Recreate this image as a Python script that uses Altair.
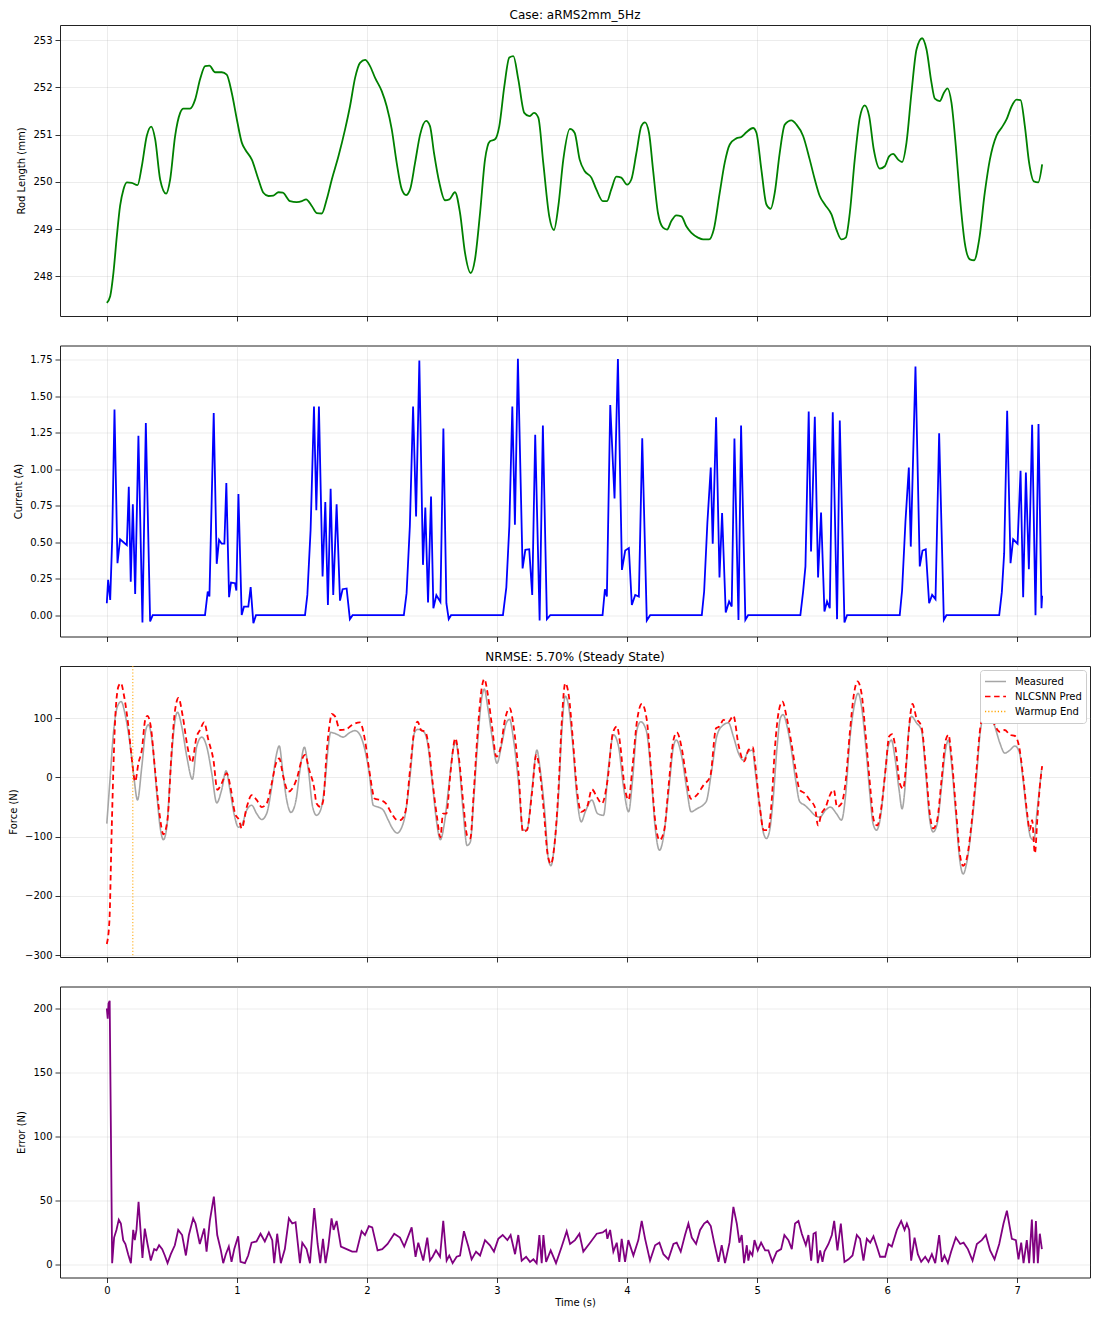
import altair as alt
import pandas as pd

FONT = "DejaVu Sans"

# ---------------- data (time s, value) ----------------
rod_points = [
    (0, 247.44), (0.026, 247.58), (0.051, 248.08), (0.077, 248.85), (0.102, 249.49), (0.128, 249.84),
    (0.154, 249.99), (0.192, 249.98), (0.236, 249.93), (0.269, 250.33), (0.307, 250.97), (0.341, 251.17),
    (0.372, 250.90), (0.41, 250.05), (0.456, 249.75), (0.487, 250.05), (0.525, 250.97), (0.564, 251.46),
    (0.589, 251.55), (0.64, 251.55), (0.679, 251.74), (0.717, 252.17), (0.756, 252.45), (0.789, 252.46),
    (0.833, 252.32), (0.884, 252.32), (0.922, 252.27), (0.961, 251.88), (1.0, 251.32), (1.038, 250.83),
    (1.063, 250.69), (1.115, 250.47), (1.166, 250.05), (1.204, 249.77), (1.243, 249.70), (1.281, 249.71),
    (1.32, 249.78), (1.353, 249.77), (1.409, 249.59), (1.46, 249.57), (1.5, 249.59), (1.532, 249.63),
    (1.576, 249.49), (1.614, 249.34), (1.653, 249.33), (1.691, 249.63), (1.73, 250.05), (1.781, 250.54),
    (1.832, 251.11), (1.87, 251.60), (1.909, 252.20), (1.947, 252.52), (1.986, 252.58), (2.024, 252.45),
    (2.063, 252.20), (2.114, 251.92), (2.152, 251.60), (2.191, 251.11), (2.229, 250.40), (2.268, 249.84),
    (2.301, 249.72), (2.332, 249.84), (2.37, 250.40), (2.409, 251.00), (2.455, 251.29), (2.485, 251.18),
    (2.516, 250.61), (2.557, 249.98), (2.6, 249.61), (2.634, 249.63), (2.677, 249.78), (2.716, 249.34),
    (2.754, 248.50), (2.798, 248.07), (2.831, 248.36), (2.87, 249.34), (2.908, 250.47), (2.946, 250.86),
    (2.985, 250.90), (3.018, 251.18), (3.057, 252.03), (3.095, 252.63), (3.126, 252.66), (3.164, 252.17),
    (3.21, 251.46), (3.249, 251.39), (3.285, 251.46), (3.318, 251.36), (3.356, 250.40), (3.402, 249.27),
    (3.438, 248.98), (3.472, 249.49), (3.51, 250.47), (3.561, 251.12), (3.597, 251.04), (3.636, 250.47),
    (3.674, 250.23), (3.726, 250.09), (3.764, 249.84), (3.815, 249.59), (3.846, 249.59), (3.879, 249.84),
    (3.918, 250.11), (3.956, 250.09), (4.0, 249.94), (4.033, 250.05), (4.072, 250.61), (4.11, 251.18),
    (4.138, 251.26), (4.169, 251.04), (4.2, 250.26), (4.238, 249.34), (4.277, 249.03), (4.308, 248.99),
    (4.341, 249.17), (4.379, 249.29), (4.418, 249.27), (4.456, 249.06), (4.495, 248.92), (4.546, 248.82),
    (4.585, 248.78), (4.631, 248.78), (4.667, 248.99), (4.713, 249.77), (4.751, 250.40), (4.79, 250.79),
    (4.841, 250.92), (4.879, 250.95), (4.918, 251.05), (4.969, 251.14), (4.995, 251.04), (5.033, 250.26),
    (5.072, 249.52), (5.105, 249.43), (5.136, 249.77), (5.174, 250.61), (5.213, 251.21), (5.264, 251.30),
    (5.303, 251.21), (5.354, 250.97), (5.405, 250.47), (5.444, 250.05), (5.482, 249.70), (5.521, 249.52),
    (5.572, 249.31), (5.61, 248.99), (5.649, 248.78), (5.682, 248.82), (5.713, 249.34), (5.751, 250.47),
    (5.79, 251.36), (5.828, 251.62), (5.862, 251.39), (5.897, 250.69), (5.944, 250.28), (5.982, 250.33),
    (6.015, 250.54), (6.046, 250.59), (6.085, 250.47), (6.115, 250.42), (6.149, 250.83), (6.187, 251.88),
    (6.226, 252.80), (6.269, 253.04), (6.303, 252.80), (6.341, 252.10), (6.367, 251.76), (6.405, 251.71),
    (6.436, 251.88), (6.464, 251.98), (6.495, 251.67), (6.528, 250.76), (6.559, 249.70), (6.597, 248.71),
    (6.636, 248.36), (6.669, 248.34), (6.708, 248.78), (6.751, 249.77), (6.79, 250.47), (6.841, 250.98),
    (6.879, 251.14), (6.918, 251.32), (6.956, 251.59), (6.995, 251.74), (7.026, 251.73), (7.059, 251.18),
    (7.092, 250.40), (7.128, 250.01), (7.162, 249.99), (7.192, 250.37),
]

current_points = [
    (0, 0.082), (0.01, 0.242), (0.026, 0.105), (0.041, 0.516), (0.059, 1.41), (0.082, 0.356), (0.102, 0.52),
    (0.128, 0.50), (0.154, 0.48), (0.169, 0.88), (0.184, 0.23), (0.2, 0.76), (0.218, 0.146), (0.243, 1.23),
    (0.274, -0.05), (0.3, 1.316), (0.333, -0.043), (0.353, 0.0), (0.755, 0.0), (0.776, 0.162), (0.789, 0.128),
    (0.822, 1.385), (0.845, 0.352), (0.863, 0.516), (0.883, 0.49), (0.904, 0.49), (0.919, 0.905), (0.94, 0.123),
    (0.955, 0.224), (0.986, 0.219), (0.996, 0.169), (1.012, 0.83), (1.037, 0.002), (1.055, 0.059),
    (1.088, 0.059), (1.106, 0.192), (1.127, -0.055), (1.147, 0.0), (1.524, 0.0), (1.542, 0.139),
    (1.567, 0.585), (1.593, 1.43), (1.611, 0.72), (1.631, 1.43), (1.659, 0.265), (1.68, 0.775), (1.7, 0.07),
    (1.721, 0.866), (1.741, 0.139), (1.767, 0.76), (1.793, 0.10), (1.813, 0.178), (1.844, 0.183),
    (1.869, -0.027), (1.89, 0.0), (2.284, 0.0), (2.305, 0.151), (2.33, 0.608), (2.355, 1.43), (2.378, 0.676),
    (2.403, 1.745), (2.431, 0.345), (2.449, 0.738), (2.47, 0.087), (2.493, 0.813), (2.511, 0.048),
    (2.534, 0.137), (2.565, 0.091), (2.588, 1.28), (2.611, 0.082), (2.629, -0.027), (2.647, 0.0), (3.046, 0.0),
    (3.072, 0.19), (3.095, 0.61), (3.118, 1.43), (3.138, 0.62), (3.161, 1.757), (3.197, 0.32), (3.218, 0.448),
    (3.248, 0.452), (3.271, 0.139), (3.294, 1.236), (3.328, -0.037), (3.353, 1.30), (3.384, -0.027),
    (3.41, 0.0), (3.812, 0.0), (3.83, 0.178), (3.845, 0.128), (3.871, 1.44), (3.904, 0.80), (3.93, 1.755),
    (3.961, 0.31), (3.986, 0.443), (4.014, 0.46), (4.037, 0.07), (4.063, 0.139), (4.091, 0.128),
    (4.117, 1.213), (4.152, -0.037), (4.178, 0.0), (4.575, 0.0), (4.593, 0.162), (4.618, 0.635),
    (4.644, 1.012), (4.659, 0.49), (4.685, 1.357), (4.711, 0.258), (4.731, 0.70), (4.759, 0.018),
    (4.785, 0.094), (4.805, 0.059), (4.826, 1.21), (4.857, -0.032), (4.877, 1.30), (4.91, -0.032),
    (4.931, 0.0), (5.333, 0.0), (5.354, 0.162), (5.372, 0.334), (5.397, 1.396), (5.415, 0.436), (5.444, 1.36),
    (5.469, 0.258), (5.492, 0.704), (5.518, 0.025), (5.538, 0.094), (5.559, 0.048), (5.582, 1.39),
    (5.615, -0.027), (5.636, 1.334), (5.672, -0.05), (5.692, 0.0), (6.097, 0.0), (6.115, 0.169),
    (6.141, 0.642), (6.167, 1.012), (6.182, 0.47), (6.218, 1.704), (6.251, 0.334), (6.272, 0.443),
    (6.297, 0.452), (6.323, 0.082), (6.346, 0.139), (6.372, 0.11), (6.4, 1.247), (6.436, -0.032),
    (6.456, 0.0), (6.862, 0.0), (6.882, 0.158), (6.9, 0.425), (6.923, 1.40), (6.949, 0.356), (6.969, 0.52),
    (7.003, 0.49), (7.026, 0.99), (7.046, 0.123), (7.067, 0.978), (7.09, 0.315), (7.115, 1.305),
    (7.141, 0.0), (7.164, 1.31), (7.187, 0.048), (7.192, 0.133),
]

measured_points = [
    (0, -78), (0.026, 1), (0.051, 75), (0.082, 120), (0.11, 128), (0.141, 106), (0.174, 63), (0.205, 7),
    (0.236, -38), (0.269, 18), (0.3, 80), (0.32, 89), (0.353, 52), (0.384, -27), (0.41, -84), (0.435, -105),
    (0.461, -84), (0.492, 18), (0.525, 97), (0.543, 110), (0.576, 86), (0.615, 35), (0.658, -3), (0.691, 52),
    (0.73, 68), (0.768, 52), (0.807, 7), (0.845, -43), (0.883, -21), (0.917, 11), (0.947, -21), (0.978, -61),
    (1.012, -84), (1.042, -78), (1.076, -55), (1.114, -47), (1.152, -61), (1.191, -71), (1.229, -61),
    (1.268, -16), (1.301, 35), (1.326, 53), (1.352, 12), (1.383, -38), (1.416, -59), (1.455, -38), (1.485, 12),
    (1.519, 51), (1.55, 12), (1.583, -50), (1.613, -64), (1.644, -55), (1.677, -10), (1.703, 52), (1.721, 76),
    (1.767, 73), (1.818, 68), (1.864, 75), (1.908, 79), (1.946, 72), (1.985, 46), (2.018, 7), (2.049, -47),
    (2.087, -50), (2.125, -55), (2.164, -72), (2.202, -88), (2.233, -94), (2.257, -89), (2.296, -61),
    (2.334, 7), (2.365, 75), (2.39, 81), (2.437, 77), (2.462, 63), (2.501, -5), (2.534, -72), (2.565, -105),
    (2.595, -78), (2.629, -16), (2.662, 46), (2.683, 60), (2.706, 29), (2.739, -55), (2.77, -115),
    (2.795, -109), (2.821, -38), (2.851, 58), (2.885, 137), (2.903, 149), (2.928, 120), (2.962, 69), (3.0, 24),
    (3.038, 58), (3.072, 92), (3.097, 98), (3.128, 63), (3.166, -10), (3.2, -89), (3.23, -89), (3.269, -21),
    (3.307, 46), (3.333, 12), (3.364, -50), (3.397, -140), (3.415, -149), (3.44, -118), (3.474, -27),
    (3.499, 80), (3.525, 137), (3.551, 120), (3.584, 52), (3.615, -33), (3.648, -75), (3.679, -58),
    (3.73, -38), (3.773, -61), (3.819, -64), (3.858, 18), (3.896, 72), (3.935, 52), (3.973, -16),
    (4.012, -58), (4.042, -5), (4.076, 80), (4.106, 94), (4.147, 80), (4.183, 12), (4.216, -84), (4.25, -123),
    (4.28, -101), (4.319, -27), (4.357, 52), (4.378, 63), (4.421, 35), (4.46, -21), (4.493, -58), (4.536, -53),
    (4.608, -41), (4.651, 12), (4.69, 69), (4.728, 86), (4.78, 92), (4.818, 69), (4.857, 41), (4.895, 29),
    (4.933, 44), (4.967, 46), (4.982, 18), (5.021, -50), (5.051, -95), (5.072, -103), (5.097, -89),
    (5.123, -38), (5.154, 52), (5.179, 100), (5.2, 106), (5.231, 86), (5.264, 46), (5.297, -5), (5.328, -41),
    (5.367, -47), (5.405, -55), (5.444, -64), (5.482, -67), (5.528, -55), (5.564, -50), (5.61, -61),
    (5.649, -72), (5.682, -27), (5.713, 63), (5.751, 125), (5.777, 142), (5.803, 120), (5.836, 52),
    (5.867, -27), (5.892, -78), (5.918, -89), (5.949, -67), (5.982, 1), (6.008, 52), (6.033, 63), (6.059, 35),
    (6.092, -21), (6.115, -53), (6.136, -21), (6.162, 69), (6.187, 103), (6.226, 92), (6.264, 80), (6.297, 7),
    (6.328, -72), (6.354, -92), (6.385, -78), (6.418, -16), (6.451, 49), (6.472, 63), (6.495, 24),
    (6.528, -61), (6.559, -140), (6.585, -163), (6.61, -146), (6.649, -84), (6.687, 1), (6.718, 80),
    (6.751, 106), (6.79, 108), (6.828, 86), (6.867, 58), (6.905, 41), (6.944, 46), (6.982, 53), (7.015, 44),
    (7.046, -5), (7.077, -67), (7.103, -101), (7.128, -106), (7.154, -55), (7.187, 12),
]

pred_points = [
    (0, -281), (0.02, -242), (0.038, -84), (0.064, 97), (0.09, 154), (0.108, 159), (0.133, 137), (0.166, 86),
    (0.192, 32), (0.218, -7), (0.243, 24), (0.269, 46), (0.295, 97), (0.312, 104), (0.338, 86), (0.371, 12),
    (0.405, -61), (0.435, -96), (0.466, -72), (0.499, 46), (0.525, 114), (0.551, 134), (0.584, 103),
    (0.62, 52), (0.653, 25), (0.691, 69), (0.717, 80), (0.748, 93), (0.781, 63), (0.82, 29), (0.85, -21),
    (0.883, -10), (0.922, 7), (0.953, -19), (0.986, -61), (1.017, -72), (1.037, -86), (1.076, -50),
    (1.114, -30), (1.152, -38), (1.191, -50), (1.229, -44), (1.268, -10), (1.301, 24), (1.326, 32),
    (1.357, 1), (1.396, -24), (1.434, -16), (1.465, 1), (1.498, 29), (1.524, 38), (1.557, 12), (1.593, -16),
    (1.613, -44), (1.644, -50), (1.665, -38), (1.69, 41), (1.716, 94), (1.729, 107), (1.755, 103),
    (1.793, 80), (1.839, 81), (1.882, 88), (1.946, 93), (1.985, 63), (2.018, 12), (2.061, -36), (2.1, -38),
    (2.146, -44), (2.19, -61), (2.233, -72), (2.257, -72), (2.296, -58), (2.334, 18), (2.365, 80), (2.39, 94),
    (2.416, 80), (2.449, 77), (2.475, 52), (2.506, -10), (2.539, -67), (2.565, -101), (2.585, -61),
    (2.611, -61), (2.642, 7), (2.68, 66), (2.706, 35), (2.744, -50), (2.77, -98), (2.795, -103), (2.821, -27),
    (2.851, 75), (2.885, 154), (2.903, 166), (2.928, 142), (2.962, 86), (2.995, 35), (3.026, 49), (3.064, 100),
    (3.097, 117), (3.128, 86), (3.166, 7), (3.2, -92), (3.23, -89), (3.269, -27), (3.302, 38), (3.333, 4),
    (3.364, -67), (3.389, -129), (3.415, -146), (3.44, -118), (3.474, -16), (3.499, 97), (3.525, 159),
    (3.551, 140), (3.584, 63), (3.615, -21), (3.648, -58), (3.692, -50), (3.73, -20), (3.768, -33),
    (3.807, -44), (3.85, -5), (3.891, 75), (3.922, 86), (3.948, 55), (3.978, -10), (4.012, -38), (4.042, 18),
    (4.076, 94), (4.114, 124), (4.152, 97), (4.183, 18), (4.216, -72), (4.25, -106), (4.286, -89),
    (4.319, -16), (4.357, 63), (4.383, 76), (4.421, 49), (4.455, 1), (4.491, -36), (4.536, -30), (4.588, -13),
    (4.639, 1), (4.685, 83), (4.711, 86), (4.742, 97), (4.78, 94), (4.818, 104), (4.857, 55), (4.9, 27),
    (4.933, 46), (4.967, 51), (4.982, 29), (5.021, -50), (5.051, -89), (5.085, -89), (5.113, -38),
    (5.136, 46), (5.169, 114), (5.195, 128), (5.226, 103), (5.264, 58), (5.297, 12), (5.328, -21),
    (5.367, -27), (5.405, -38), (5.444, -50), (5.469, -81), (5.495, -61), (5.528, -50), (5.554, -33),
    (5.59, -21), (5.615, -50), (5.649, -44), (5.682, -5), (5.713, 75), (5.746, 142), (5.772, 162),
    (5.803, 142), (5.836, 69), (5.872, -21), (5.897, -72), (5.923, -81), (5.956, -50), (5.99, 18),
    (6.015, 69), (6.038, 73), (6.067, 46), (6.097, -10), (6.123, -19), (6.149, 29), (6.174, 97), (6.195, 124),
    (6.226, 100), (6.264, 86), (6.297, 18), (6.328, -61), (6.354, -86), (6.385, -72), (6.418, -5),
    (6.451, 63), (6.472, 72), (6.495, 35), (6.528, -50), (6.559, -129), (6.585, -149), (6.615, -134),
    (6.649, -78), (6.687, 12), (6.718, 86), (6.751, 108), (6.785, 113), (6.828, 88), (6.867, 77),
    (6.905, 80), (6.944, 72), (6.982, 70), (7.015, 52), (7.046, 1), (7.077, -61), (7.097, -89), (7.115, -72),
    (7.136, -128), (7.156, -67), (7.174, -16), (7.192, 19),
]

error_points = [
    (0, 200), (0.007, 192), (0.013, 204), (0.022, 206), (0.041, 1), (0.056, 21), (0.074, 27), (0.092, 35),
    (0.108, 32), (0.126, 19), (0.143, 16), (0.164, 8), (0.185, 1), (0.203, 27), (0.215, 19), (0.228, 27),
    (0.244, 49), (0.259, 27), (0.274, 5), (0.292, 28), (0.313, 16), (0.338, 3), (0.364, 12), (0.382, 11),
    (0.402, 15), (0.426, 12), (0.446, 7), (0.467, 1), (0.492, 8), (0.523, 15), (0.549, 27), (0.579, 23),
    (0.608, 7), (0.631, 23), (0.664, 36), (0.682, 32), (0.715, 16), (0.749, 28), (0.767, 10), (0.792, 34),
    (0.823, 53), (0.849, 23), (0.877, 11), (0.895, 1), (0.915, 8), (0.938, 14), (0.959, 2), (0.98, 12),
    (1.01, 22), (1.028, 2), (1.062, 1), (1.087, 7), (1.113, 17), (1.151, 18), (1.182, 24), (1.215, 18),
    (1.246, 25), (1.272, 19), (1.287, 1), (1.31, 24), (1.338, 1), (1.369, 12), (1.4, 36), (1.426, 32),
    (1.451, 33), (1.485, 1), (1.503, 17), (1.536, 12), (1.562, 1), (1.595, 44), (1.621, 16), (1.641, 1),
    (1.662, 20), (1.682, 1), (1.703, 14), (1.728, 36), (1.744, 27), (1.767, 34), (1.8, 14), (1.844, 12),
    (1.887, 10), (1.92, 10), (1.959, 26), (1.985, 23), (2.015, 30), (2.041, 29), (2.082, 11), (2.118, 12),
    (2.159, 16), (2.21, 24), (2.254, 21), (2.287, 14), (2.344, 29), (2.374, 6), (2.395, 17), (2.433, 3),
    (2.464, 21), (2.485, 3), (2.505, 6), (2.531, 11), (2.562, 6), (2.587, 34), (2.613, 3), (2.633, 7),
    (2.659, 1), (2.69, 6), (2.716, 7), (2.746, 26), (2.78, 14), (2.805, 4), (2.839, 10), (2.87, 7),
    (2.908, 19), (2.946, 15), (2.977, 10), (3.01, 20), (3.044, 23), (3.08, 19), (3.105, 23), (3.139, 8),
    (3.164, 23), (3.19, 3), (3.224, 6), (3.254, 2), (3.28, 4), (3.305, 1), (3.326, 23), (3.344, 1),
    (3.357, 23), (3.378, 2), (3.413, 11), (3.454, 1), (3.498, 14), (3.536, 26), (3.562, 16), (3.6, 19),
    (3.634, 24), (3.664, 10), (3.716, 17), (3.767, 24), (3.813, 25), (3.839, 27), (3.849, 20), (3.87, 27),
    (3.895, 10), (3.921, 17), (3.941, 2), (3.959, 20), (3.985, 2), (4.01, 19), (4.049, 7), (4.087, 19),
    (4.113, 34), (4.139, 20), (4.177, 3), (4.216, 15), (4.249, 17), (4.28, 8), (4.318, 4), (4.357, 16),
    (4.382, 17), (4.413, 10), (4.446, 23), (4.472, 32), (4.498, 21), (4.531, 16), (4.562, 27), (4.593, 32),
    (4.618, 34), (4.644, 30), (4.67, 17), (4.703, 2), (4.728, 15), (4.754, 1), (4.788, 17), (4.818, 45),
    (4.844, 32), (4.864, 17), (4.882, 23), (4.9, 1), (4.921, 15), (4.933, 3), (4.946, 10), (4.964, 7),
    (4.98, 19), (5.005, 11), (5.031, 17), (5.062, 11), (5.087, 11), (5.118, 2), (5.151, 10), (5.185, 12),
    (5.21, 23), (5.241, 19), (5.267, 12), (5.292, 32), (5.318, 34), (5.344, 24), (5.375, 15), (5.395, 23),
    (5.416, 3), (5.434, 24), (5.451, 25), (5.467, 1), (5.485, 11), (5.503, 2), (5.518, 10), (5.549, 16),
    (5.575, 23), (5.593, 34), (5.618, 11), (5.644, 32), (5.672, 2), (5.703, 4), (5.734, 7), (5.767, 23),
    (5.792, 20), (5.818, 3), (5.844, 20), (5.87, 17), (5.895, 22), (5.921, 14), (5.946, 6), (5.985, 6),
    (6.01, 16), (6.036, 14), (6.075, 27), (6.108, 34), (6.134, 27), (6.152, 32), (6.17, 27), (6.185, 3),
    (6.211, 21), (6.236, 8), (6.262, 2), (6.293, 6), (6.318, 2), (6.344, 8), (6.37, 1), (6.4, 23), (6.421, 2),
    (6.441, 7), (6.467, 1), (6.492, 10), (6.528, 21), (6.562, 16), (6.588, 17), (6.621, 12), (6.657, 3),
    (6.69, 16), (6.728, 19), (6.759, 23), (6.792, 11), (6.826, 4), (6.862, 16), (6.895, 32), (6.921, 42),
    (6.959, 20), (6.99, 19), (7.01, 4), (7.031, 17), (7.049, 1), (7.074, 19), (7.092, 1), (7.113, 35),
    (7.128, 1), (7.144, 34), (7.159, 1), (7.174, 24), (7.19, 12),
]

warmup_end = [0.2]

series_names = ["Measured", "NLCSNN Pred", "Warmup End"]
series_colors = ["#a6a6a6", "#ff0000", "#ffa500"]
series_dashes = [[1, 0], [5.5, 3.6], [1.2, 2]]

title_top = "Case: aRMS2mm_5Hz"
title_force = "NRMSE: 5.70% (Steady State)"

# ---------------- frames ----------------
def frame(points, name=None):
    df = pd.DataFrame(points, columns=["t", "v"])
    if name is not None:
        df["series"] = name
    return df

rod_df = frame(rod_points)
cur_df = frame(current_points)
meas_df = frame(measured_points, "Measured")
pred_df = frame(pred_points, "NLCSNN Pred")
err_df = frame(error_points)
warm_df = pd.DataFrame({"t": warmup_end, "series": ["Warmup End"]})

W, H = 1030, 291
X_DOMAIN = [-0.36, 7.56]
X_TICKS = [0, 1, 2, 3, 4, 5, 6, 7]


def x_enc(show):
    ax = dict(values=X_TICKS, labels=show, format="d")
    if show:
        ax["title"] = "Time (s)"
        ax["titlePadding"] = 2
    else:
        ax["title"] = None
    return alt.X("t:Q", scale=alt.Scale(domain=X_DOMAIN, nice=False, zero=False), axis=alt.Axis(**ax))


def y_enc(domain, ticks, fmt, title):
    return alt.Y("v:Q", scale=alt.Scale(domain=domain, nice=False, zero=False),
                 axis=alt.Axis(values=ticks, format=fmt, title=title))


p1 = alt.Chart(rod_df).mark_line(color="green", strokeWidth=1.8, interpolate="monotone").encode(
    x=x_enc(False),
    y=y_enc([247.16, 253.32], [248, 249, 250, 251, 252, 253], "d", "Rod Length (mm)"),
).properties(width=W, height=H, title=alt.TitleParams(title_top, offset=3))

p2 = alt.Chart(cur_df).mark_line(color="blue", strokeWidth=1.8).encode(
    x=x_enc(False),
    y=y_enc([-0.146, 1.848], [0, 0.25, 0.5, 0.75, 1.0, 1.25, 1.5, 1.75], ".2f", "Current (A)"),
).properties(width=W, height=H)

legend = alt.Legend(title=None, orient="top-right", offset=4, padding=4, fillColor="white",
                    strokeColor="#cccccc", cornerRadius=3, symbolType="stroke", symbolSize=441,
                    symbolStrokeWidth=1.5, labelFontSize=10, labelFont=FONT, labelColor="black",
                    rowPadding=0, clipHeight=15, labelOffset=8)
color = alt.Color("series:N", scale=alt.Scale(domain=series_names, range=series_colors), legend=legend)
dash = alt.StrokeDash("series:N", scale=alt.Scale(domain=series_names, range=series_dashes), legend=legend)

fy = y_enc([-303, 188], [-300, -200, -100, 0, 100], "d", "Force (N)")
meas_line = alt.Chart(meas_df).mark_line(strokeWidth=1.6, interpolate="monotone").encode(
    x=x_enc(False), y=fy, color=color, strokeDash=dash)
pred_line = alt.Chart(pred_df).mark_line(strokeWidth=1.8, interpolate="monotone").encode(
    x=x_enc(False), y=fy, color=color, strokeDash=dash)
warm_rule = alt.Chart(warm_df).mark_rule(strokeWidth=1).encode(
    x=x_enc(False), color=color, strokeDash=dash)
p3 = alt.layer(meas_line, pred_line, warm_rule).properties(
    width=W, height=H, title=alt.TitleParams(title_force, offset=2))

p4 = alt.Chart(err_df).mark_line(color="purple", strokeWidth=1.8).encode(
    x=x_enc(True),
    y=y_enc([-10.2, 217.2], [0, 50, 100, 150, 200], "d", "Error (N)"),
).properties(width=W, height=H)

chart = alt.vconcat(p1, p2, p3, p4, spacing=29.5, bounds="flush").resolve_legend(
    color="independent", strokeDash="independent"
).properties(
    padding={"left": 0, "top": 0, "right": 0, "bottom": 0},
    background="white",
).configure_view(
    stroke="#222222", strokeWidth=1
).configure_axis(
    labelFont=FONT, labelFontSize=10, labelColor="black",
    titleFont=FONT, titleFontSize=10, titleFontWeight="normal", titleColor="black",
    tickColor="black", tickSize=5, tickWidth=0.8, domain=False,
    gridColor="#b0b0b0", gridOpacity=0.3, gridWidth=0.8,
    labelPadding=3, titlePadding=6,
).configure_title(
    font=FONT, fontSize=12, fontWeight="normal", color="black", anchor="middle"
)

chart.save("out.html", embed_options={"renderer": "svg", "actions": False})
